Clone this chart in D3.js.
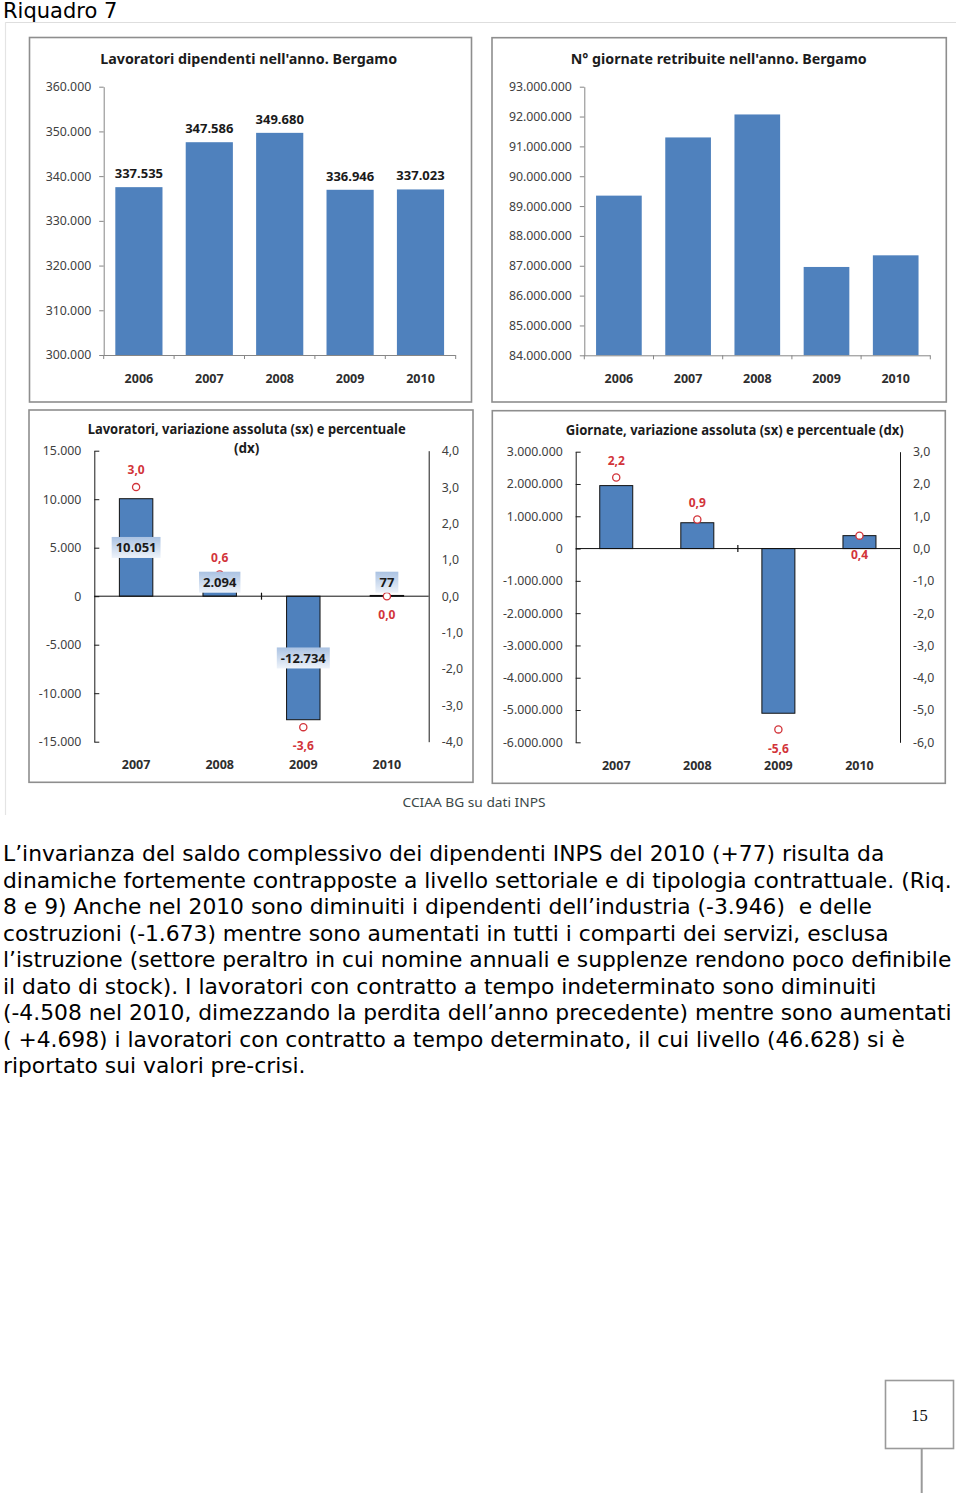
<!DOCTYPE html>
<html><head><meta charset="utf-8">
<script src="https://cdn.jsdelivr.net/npm/d3@7"></script>
<style>
body{margin:0;background:#fff;}
svg{display:block;}
</style></head><body>
<svg id="page" width="960" height="1493"></svg>
<script>
// ---------- DATA ----------
const yearsLevel = ["2006", "2007", "2008", "2009", "2010"];
const workers = [337535, 347586, 349680, 336946, 337023];
const days = [89350000, 91300000, 92070000, 86960000, 87350000];
const workersTicks = [300000, 310000, 320000, 330000, 340000, 350000, 360000];
const daysTicks = [84000000, 85000000, 86000000, 87000000, 88000000, 89000000, 90000000, 91000000, 92000000, 93000000];

const yearsChange = ["2007", "2008", "2009", "2010"];
const workersChange = [10051, 2094, -12734, 77];
const workersPct = [3.0, 0.6, -3.6, 0.0];
const daysChange = [1950000, 800000, -5100000, 400000];
const daysPct = [2.2, 0.9, -5.6, 0.4];
const workersChangeTicks = [-15000, -10000, -5000, 0, 5000, 10000, 15000];
const workersPctTicks = [-4, -3, -2, -1, 0, 1, 2, 3, 4];
const daysChangeTicks = [-6000000, -5000000, -4000000, -3000000, -2000000, -1000000, 0, 1000000, 2000000, 3000000];
const daysPctTicks = [-6, -5, -4, -3, -2, -1, 0, 1, 2, 3];

const paragraph = [
  "L’invarianza del saldo complessivo dei dipendenti INPS del 2010 (+77) risulta da",
  "dinamiche fortemente contrapposte a livello settoriale e di tipologia contrattuale. (Riq.",
  "8 e 9) Anche nel 2010 sono diminuiti i dipendenti dell’industria (-3.946)  e delle",
  "costruzioni (-1.673) mentre sono aumentati in tutti i comparti dei servizi, esclusa",
  "l’istruzione (settore peraltro in cui nomine annuali e supplenze rendono poco definibile",
  "il dato di stock). I lavoratori con contratto a tempo indeterminato sono diminuiti",
  "(-4.508 nel 2010, dimezzando la perdita dell’anno precedente) mentre sono aumentati",
  "( +4.698) i lavoratori con contratto a tempo determinato, il cui livello (46.628) si è",
  "riportato sui valori pre-crisi."
];

// ---------- SETUP ----------
const loc = d3.formatLocale({decimal: ",", thousands: ".", grouping: [3], currency: ["€", ""], minus: "-"});
const fmtInt = loc.format(",d");
const fmtPct = loc.format(".1f");

const svg = d3.select("#page");
const FONT = "'Noto Sans', 'Open Sans', sans-serif";
const BAR = "#4f81bd";
const RED = "#d2343a";

const defs = svg.append("defs");
const grad = defs.append("linearGradient").attr("id", "lblGrad").attr("x1", 0).attr("y1", 0).attr("x2", 0).attr("y2", 1);
grad.append("stop").attr("offset", 0).attr("stop-color", "#aac2e2");
grad.append("stop").attr("offset", 1).attr("stop-color", "#eef3fa");

function fitText(sel, w) {
  if (!w) return;
  sel.attr("textLength", w).attr("lengthAdjust", "spacingAndGlyphs");
}
function drawBox(b) {
  svg.append("rect").attr("x", b.x).attr("y", b.y).attr("width", b.w).attr("height", b.h)
    .attr("fill", "#fff").attr("stroke", "#8e8e8e").attr("stroke-width", 1.6);
}
function styleTicks(a, color, size) {
  a.selectAll("text").attr("font-family", FONT).attr("font-size", size).attr("fill", color);
}

// page frame
svg.append("line").attr("x1", 5).attr("x2", 956).attr("y1", 22.5).attr("y2", 22.5).attr("stroke", "#dedede").attr("stroke-width", 1.2);
svg.append("line").attr("x1", 5.5).attr("x2", 5.5).attr("y1", 22).attr("y2", 815).attr("stroke", "#e4e4e4").attr("stroke-width", 1.2);
svg.append("text").attr("x", 3).attr("y", 17.8).attr("font-family", "'DejaVu Sans', Verdana, sans-serif")
  .attr("font-size", 21).attr("fill", "#000").text("Riquadro 7");

// ---------- LEVEL CHARTS ----------
function levelChart(c) {
  drawBox(c.box);
  const g = svg.append("g");
  const x = d3.scaleBand().domain(c.cats).range([c.x0, c.x1]).paddingInner(c.pad).paddingOuter(c.pad / 2);
  const y = d3.scaleLinear().domain(c.domain).range([c.y0, c.y1]);

  const t = g.append("text").attr("x", c.titleX).attr("y", c.titleY).attr("dy", "0.35em")
    .attr("text-anchor", "middle").attr("font-family", FONT).attr("font-weight", 700)
    .attr("font-size", 13.5).attr("fill", "#1c1c1c").text(c.title);
  fitText(t, c.titleW);

  g.selectAll("rect.bar").data(c.values).join("rect").attr("class", "bar")
    .attr("x", (d, i) => x(c.cats[i])).attr("y", d => y(d))
    .attr("width", x.bandwidth()).attr("height", d => y(c.domain[0]) - y(d))
    .attr("fill", BAR);

  if (c.labels) {
    g.selectAll("text.val").data(c.values).join("text").attr("class", "val")
      .attr("x", (d, i) => x(c.cats[i]) + x.bandwidth() / 2).attr("y", d => y(d) - 13.7).attr("dy", "0.35em")
      .attr("text-anchor", "middle").attr("font-family", FONT).attr("font-weight", 700)
      .attr("font-size", 13).attr("fill", "#1a1a1a").text(d => fmtInt(d));
  }

  const ya = g.append("g").attr("transform", `translate(${c.x0},0)`)
    .call(d3.axisLeft(y).tickValues(c.ticks).tickFormat(fmtInt).tickSize(4.5).tickSizeOuter(0).tickPadding(8));
  ya.selectAll("path,line").attr("stroke", "#868686");
  styleTicks(ya, "#404040", 12.3);

  const xa = g.append("g").attr("transform", `translate(0,${c.y0})`)
    .call(d3.axisBottom(x).tickSize(0).tickSizeOuter(0));
  xa.select("path").attr("stroke", "#868686").attr("d", `M${c.x0},0.5H${c.x1}`);
  xa.selectAll("text").attr("y", c.xLabelY - c.y0).attr("dy", "0.35em").attr("font-weight", 700);
  styleTicks(xa, "#2e2e2e", 12.5);
  const bounds = c.cats.map(k => x(k) - (x.step() - x.bandwidth()) / 2).concat([c.x1]);
  xa.selectAll("line.bnd").data(bounds).join("line").attr("class", "bnd")
    .attr("x1", d => d).attr("x2", d => d).attr("y1", 0).attr("y2", 4).attr("stroke", "#868686");
}

levelChart({
  box: {x: 29.5, y: 37.5, w: 442, h: 364.5},
  title: "Lavoratori dipendenti nell'anno. Bergamo", titleX: 248.7, titleY: 58.8, titleW: 297,
  cats: yearsLevel, values: workers, domain: [300000, 360000], ticks: workersTicks,
  x0: 103.7, x1: 455.7, y0: 355, y1: 86.7, pad: 0.33, labels: true, xLabelY: 378.3
});
levelChart({
  box: {x: 492, y: 37.7, w: 454.3, h: 364.3},
  title: "N° giornate retribuite nell'anno. Bergamo", titleX: 718.7, titleY: 58.8, titleW: 296,
  cats: yearsLevel, values: days, domain: [84000000, 93000000], ticks: daysTicks,
  x0: 584.3, x1: 930.3, y0: 355.3, y1: 86.7, pad: 0.34, labels: false, xLabelY: 378.3
});

// ---------- CHANGE CHARTS ----------
function changeChart(c) {
  drawBox(c.box);
  const g = svg.append("g");
  const x = d3.scaleBand().domain(c.cats).range([c.xL, c.xR]).paddingInner(c.pad).paddingOuter(c.pad / 2);
  const yL = d3.scaleLinear().domain(c.domL).range([c.yB, c.yT]);
  const yR = d3.scaleLinear().domain(c.domR).range([c.yB, c.yT]);
  const y0 = yL(0);

  c.titleLines.forEach((line, i) => {
    const t = g.append("text").attr("x", c.titleX).attr("y", c.titleYs[i]).attr("dy", "0.35em")
      .attr("text-anchor", "middle").attr("font-family", FONT).attr("font-weight", 700)
      .attr("font-size", 13.5).attr("fill", "#1c1c1c").text(line);
    fitText(t, c.titleW[i]);
  });

  // bars
  g.selectAll("rect.bar").data(c.values).join("rect").attr("class", "bar")
    .attr("x", (d, i) => x(c.cats[i])).attr("y", d => Math.min(yL(d), y0))
    .attr("width", x.bandwidth()).attr("height", d => Math.max(Math.abs(yL(d) - y0), 0.8))
    .attr("fill", BAR).attr("stroke", "#111").attr("stroke-width", 1);

  // axes
  const ya = g.append("g").attr("transform", `translate(${c.xL},0)`)
    .call(d3.axisLeft(yL).tickValues(c.ticksL).tickFormat(fmtInt).tickSize(-5).tickSizeOuter(0).tickPadding(13));
  ya.selectAll("path,line").attr("stroke", "#1a1a1a");
  styleTicks(ya, "#404040", 12.3);

  const yr = g.append("g").attr("transform", `translate(${c.xR},0)`)
    .call(d3.axisRight(yR).tickValues(c.ticksR).tickFormat(fmtPct).tickSize(0).tickSizeOuter(0).tickPadding(13));
  yr.selectAll("path").attr("stroke", "#1a1a1a");
  styleTicks(yr, "#404040", 12.3);

  // zero line with middle tick
  g.append("line").attr("x1", c.xL).attr("x2", c.xR).attr("y1", y0).attr("y2", y0).attr("stroke", "#111").attr("stroke-width", 1);
  const mid = x(c.cats[2]) - (x.step() - x.bandwidth()) / 2;
  g.append("line").attr("x1", mid).attr("x2", mid).attr("y1", y0 - 3.5).attr("y2", y0 + 3.5).attr("stroke", "#111").attr("stroke-width", 1.2);

  // bottom category labels
  const xa = g.append("g").attr("transform", `translate(0,${c.xLabelY})`)
    .call(d3.axisBottom(x).tickSize(0));
  xa.select("path").remove();
  xa.selectAll("text").attr("y", 0).attr("dy", "0.35em").attr("font-weight", 700);
  styleTicks(xa, "#2e2e2e", 12.5);

  const cx = i => x(c.cats[i]) + x.bandwidth() / 2;

  // percentage markers
  g.selectAll("circle.pct").data(c.pct).join("circle").attr("class", "pct")
    .attr("cx", (d, i) => cx(i)).attr("cy", d => yR(d)).attr("r", 3.6)
    .attr("fill", "#fff").attr("stroke", RED).attr("stroke-width", 1.3);
  g.selectAll("text.pct").data(c.pct).join("text").attr("class", "pct")
    .attr("x", (d, i) => cx(i)).attr("y", (d, i) => yR(d) + (c.pctSide[i] === "above" ? -17 : 19))
    .attr("dy", "0.35em").attr("text-anchor", "middle").attr("font-family", FONT).attr("font-weight", 700)
    .attr("font-size", 12).attr("fill", RED).text(d => fmtPct(d));

  // value labels in boxes
  if (c.barLabels) {
    c.values.forEach((v, i) => {
      let cy = yL(v / 2);
      if (v > 0) cy = Math.min(cy, y0 - 14); else cy = Math.max(cy, y0 + 14);
      const lg = g.append("g");
      const r = lg.append("rect");
      const t = lg.append("text").attr("x", cx(i)).attr("y", cy).attr("dy", "0.35em")
        .attr("text-anchor", "middle").attr("font-family", FONT).attr("font-weight", 700)
        .attr("font-size", 13).attr("fill", "#1a1a1a").text(fmtInt(v));
      const w = t.node().getComputedTextLength() + 8;
      r.attr("x", cx(i) - w / 2).attr("y", cy - 10.5).attr("width", w).attr("height", 21).attr("fill", "url(#lblGrad)");
    });
  }
}

changeChart({
  box: {x: 29, y: 410, w: 444, h: 372.3},
  titleLines: ["Lavoratori, variazione assoluta (sx) e percentuale", "(dx)"], titleX: 246.7, titleYs: [429, 448.5], titleW: [318, null],
  cats: yearsChange, values: workersChange, pct: workersPct,
  domL: [-15000, 15000], domR: [-4, 4], ticksL: workersChangeTicks, ticksR: workersPctTicks,
  xL: 94.3, xR: 428.7, yT: 450.7, yB: 741.7, pad: 0.6, barLabels: true,
  pctSide: ["above", "above", "below", "below"], xLabelY: 765
});
changeChart({
  box: {x: 492.3, y: 410.7, w: 453, h: 372.6},
  titleLines: ["Giornate, variazione assoluta (sx) e percentuale (dx)"], titleX: 734.8, titleYs: [430], titleW: [338],
  cats: yearsChange, values: daysChange, pct: daysPct,
  domL: [-6000000, 3000000], domR: [-6, 3], ticksL: daysChangeTicks, ticksR: daysPctTicks,
  xL: 575.7, xR: 900, yT: 451.7, yB: 742.3, pad: 0.593, barLabels: false,
  pctSide: ["above", "above", "below", "below"], xLabelY: 766
});

// source
const src = svg.append("text").attr("x", 474).attr("y", 803).attr("dy", "0.35em").attr("text-anchor", "middle")
  .attr("font-family", FONT).attr("font-size", 12.5).attr("fill", "#3b4848").text("CCIAA BG su dati INPS");
fitText(src, 143);

// paragraph
svg.append("g").selectAll("text").data(paragraph).join("text")
  .attr("x", 3).attr("y", (d, i) => 861 + i * 26.5)
  .attr("font-family", "'DejaVu Sans', Verdana, sans-serif").attr("font-size", 21.8)
  .attr("fill", "#000").style("white-space", "pre").text(d => d);

// page number box
svg.append("rect").attr("x", 885.5).attr("y", 1380.5).attr("width", 68).attr("height", 68)
  .attr("fill", "#fff").attr("stroke", "#9a9a9a").attr("stroke-width", 1.6);
svg.append("line").attr("x1", 921.7).attr("x2", 921.7).attr("y1", 1449).attr("y2", 1493).attr("stroke", "#9a9a9a").attr("stroke-width", 2);
svg.append("text").attr("x", 919.5).attr("y", 1415).attr("dy", "0.35em").attr("text-anchor", "middle")
  .attr("font-family", "'Liberation Serif', 'Times New Roman', serif").attr("font-size", 16.5).attr("fill", "#111").text("15");
</script></body></html>
